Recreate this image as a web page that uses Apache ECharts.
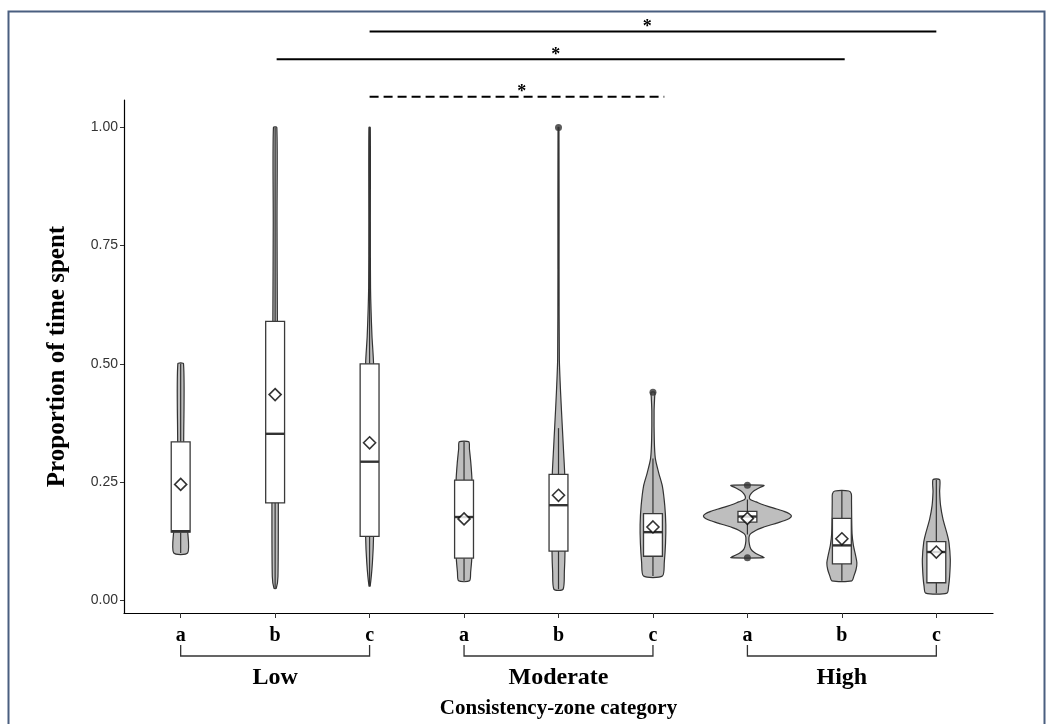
<!DOCTYPE html>
<html><head><meta charset="utf-8">
<script src="https://cdn.jsdelivr.net/npm/echarts@6/dist/echarts.min.js"></script>
<style>html,body{margin:0;padding:0;background:#fff}#c{width:1048px;height:724px}</style>
</head><body><div id="c"></div>
<script>
// ---- data ----
const categories = ['a','b','c','a','b','c','a','b','c'];
const groupNames = ['Low','Moderate','High'];
const groupSpans = [[1,3],[4,6],[7,9]];
const yTicks = [0, 0.25, 0.5, 0.75, 1];
const xTicks = [1,2,3,4,5,6,7,8,9];
// violin outlines: [value, half-width in category units]
const violinLowA = [[0.100,0.074],[0.145,0.074],[0.16,0.05],[0.30,0.034],[0.335,0.032],[0.50,0.030]];
const violinLowB = [[0.025,0.012],[0.05,0.030],[0.206,0.034],[0.35,0.032],[0.59,0.024],[0.80,0.020],[1.0,0.018]];
const violinLowC = [[0.030,0.006],[0.08,0.030],[0.135,0.042],[0.30,0.050],[0.50,0.042],[0.56,0.025],[0.66,0.010],[0.80,0.008],[1.0,0.007]];
const violinModA = [[0.041,0.058],[0.06,0.070],[0.089,0.082],[0.17,0.090],[0.254,0.084],[0.29,0.072],[0.32,0.057],[0.335,0.050]];
const violinModB = [[0.023,0.048],[0.06,0.062],[0.104,0.069],[0.20,0.072],[0.266,0.066],[0.31,0.055],[0.364,0.041],[0.44,0.022],[0.51,0.009],[0.70,0.006],[1.0,0.005]];
const violinModC = [[0.051,0.100],[0.08,0.120],[0.12,0.133],[0.16,0.136],[0.20,0.125],[0.241,0.100],[0.27,0.060],[0.30,0.025],[0.34,0.014],[0.40,0.012],[0.43,0.018],[0.44,0.020]];
const violinHighA = [[0.090,0.175],[0.095,0.127],[0.101,0.074],[0.108,0.037],[0.118,0.021],[0.132,0.016],[0.140,0.030],[0.148,0.092],[0.153,0.151],[0.158,0.226],[0.163,0.310],[0.168,0.388],[0.173,0.444],[0.178,0.466],[0.183,0.444],[0.188,0.388],[0.193,0.310],[0.198,0.226],[0.203,0.151],[0.208,0.092],[0.213,0.030],[0.218,0.021],[0.225,0.037],[0.232,0.074],[0.238,0.127],[0.243,0.175]];
const violinHighB = [[0.041,0.106],[0.051,0.127],[0.065,0.150],[0.079,0.159],[0.095,0.145],[0.116,0.122],[0.14,0.108],[0.173,0.104],[0.21,0.102],[0.225,0.100],[0.231,0.074]];
const violinHighC = [[0.015,0.113],[0.03,0.130],[0.051,0.141],[0.086,0.148],[0.122,0.134],[0.141,0.113],[0.171,0.071],[0.20,0.045],[0.23,0.035],[0.255,0.035]];
const violins = [violinLowA, violinLowB, violinLowC, violinModA, violinModB, violinModC, violinHighA, violinHighB, violinHighC];
// box stats: [lower whisker, q1, median, q3, upper whisker]
const boxStats = [
  [0.100, 0.144, 0.146, 0.335, 0.500],
  [0.025, 0.206, 0.352, 0.590, 1.000],
  [0.030, 0.135, 0.293, 0.500, 1.000],
  [0.041, 0.089, 0.176, 0.254, 0.335],
  [0.023, 0.104, 0.201, 0.266, 0.364],
  [0.051, 0.093, 0.144, 0.183, 0.300],
  [0.139, 0.165, 0.177, 0.188, 0.213],
  [0.041, 0.077, 0.116, 0.173, 0.231],
  [0.015, 0.037, 0.102, 0.124, 0.255]
];
const means = [0.245, 0.435, 0.333, 0.172, 0.222, 0.155, 0.173, 0.130, 0.102];
const outliers = [[5, 1.0], [6, 0.44], [7, 0.243], [7, 0.090]];
// significance bars: [from x, to x, height, star x]
const sigBars = [[3, 9, 1.203, 5.94], [2.016, 8.03, 1.144, 4.97], [3, 6.12, 1.065, 4.61]];
const sigDashed = [false, false, true];
const sigLabel = '*';

const Y_MIN = -0.027, Y_MAX = 1.058;
const SERIF = '"Liberation Serif", "Times New Roman", serif';
const SANS = '"Liberation Sans", Arial, sans-serif';
const BOX_W = 0.2;

const chart = echarts.init(document.getElementById('c'));

function renderViolin(params, api) {
  const i = params.dataIndex;
  const x = i + 1;
  const prof = violins[i];
  const pts = [];
  for (const [v, hw] of prof) pts.push(api.coord([x + hw, v]));
  for (let k = prof.length - 1; k >= 0; k--) pts.push(api.coord([x - prof[k][1], prof[k][0]]));
  const [lw, q1, med, q3, uw] = boxStats[i];
  const cLw = api.coord([x, lw]), cQ1 = api.coord([x, q1]), cQ3 = api.coord([x, q3]), cUw = api.coord([x, uw]);
  const bl = api.coord([x - BOX_W / 2, q3]), br = api.coord([x + BOX_W / 2, q1]);
  const mL = api.coord([x - BOX_W / 2, med]), mR = api.coord([x + BOX_W / 2, med]);
  return {
    type: 'group',
    children: [
      { type: 'polygon', shape: { points: pts, smooth: 0.25 }, style: { fill: '#bebebe', stroke: '#333', lineWidth: 1.2 } },
      { type: 'line', shape: { x1: cUw[0], y1: cUw[1], x2: cQ3[0], y2: cQ3[1] }, style: { stroke: '#333', lineWidth: 1.2 } },
      { type: 'line', shape: { x1: cQ1[0], y1: cQ1[1], x2: cLw[0], y2: cLw[1] }, style: { stroke: '#333', lineWidth: 1.2 } },
      { type: 'rect', shape: { x: bl[0], y: bl[1], width: br[0] - bl[0], height: br[1] - bl[1] }, style: { fill: '#fff', stroke: '#3a3a3a', lineWidth: 1.3 } },
      { type: 'line', shape: { x1: mL[0], y1: mL[1], x2: mR[0], y2: mR[1] }, style: { stroke: '#333', lineWidth: 2.4 } }
    ]
  };
}

function renderSig(params, api) {
  const i = params.dataIndex;
  const [x1, x2, h, sx] = sigBars[i];
  const p1 = api.coord([x1, h]), p2 = api.coord([x2, h]), ps = api.coord([sx, h]);
  return {
    type: 'group',
    children: [
      { type: 'line', shape: { x1: p1[0], y1: p1[1], x2: p2[0], y2: p2[1] }, style: { stroke: '#000', lineWidth: 2, lineDash: sigDashed[i] ? [9, 5] : null } },
      { type: 'text', x: ps[0], y: p1[1] - 4, style: { text: sigLabel, font: 'bold 18px ' + SERIF, fill: '#000', align: 'center', verticalAlign: 'middle' } }
    ]
  };
}

function renderGroup(params, api) {
  const i = params.dataIndex;
  const [s, e] = groupSpans[i];
  const p1 = api.coord([s, Y_MIN]), p2 = api.coord([e, Y_MIN]);
  const yb = p1[1] + 43, yt = p1[1] + 32;
  return {
    type: 'group',
    children: [
      { type: 'polyline', shape: { points: [[p1[0], yt], [p1[0], yb], [p2[0], yb], [p2[0], yt]] }, style: { stroke: '#333', lineWidth: 1.3, fill: null } },
      { type: 'text', x: (p1[0] + p2[0]) / 2, y: p1[1] + 65, style: { text: groupNames[i], font: 'bold 24px ' + SERIF, fill: '#000', align: 'center', verticalAlign: 'middle' } }
    ]
  };
}

chart.setOption({
  animation: false,
  backgroundColor: '#fff',
  grid: { left: 124, right: 55, top: 100, bottom: 111, outerBoundsMode: 'none', containLabel: false },
  xAxis: {
    type: 'value', min: 0.4, max: 9.6,
    name: 'Consistency-zone category', nameLocation: 'middle', nameGap: 85,
    nameTextStyle: { fontFamily: SERIF, fontWeight: 'bold', fontSize: 21, color: '#000' },
    axisLine: { show: true, onZero: false, lineStyle: { color: '#000', width: 1.2 } },
    axisTick: { show: true, customValues: xTicks, length: 5, lineStyle: { color: '#333' } },
    axisLabel: { customValues: xTicks, margin: 13, formatter: v => categories[Math.round(v) - 1], fontFamily: SERIF, fontWeight: 'bold', fontSize: 20, color: '#000' },
    splitLine: { show: false }
  },
  yAxis: {
    type: 'value', min: Y_MIN, max: Y_MAX,
    name: 'Proportion of time spent', nameLocation: 'middle', nameGap: 54, nameRotate: 90,
    nameTextStyle: { fontFamily: SERIF, fontWeight: 'bold', fontSize: 25, color: '#000' },
    axisLine: { show: true, onZero: false, lineStyle: { color: '#000', width: 1.2 } },
    axisTick: { show: true, customValues: yTicks, length: 4, lineStyle: { color: '#333' } },
    axisLabel: { customValues: yTicks, margin: 6, formatter: v => v.toFixed(2), fontFamily: SANS, fontSize: 14, color: '#333' },
    splitLine: { show: false }
  },
  graphic: [{ type: 'rect', left: 6, top: 9, shape: { width: 1036, height: 730 }, style: { fill: null, stroke: '#4a5f80', lineWidth: 2 }, silent: true }],
  series: [
    { type: 'custom', renderItem: renderViolin, data: categories.map((c, i) => [i + 1, boxStats[i][2]]), encode: { x: 0, y: 1 }, z: 2 },
    { type: 'scatter', data: outliers, symbol: 'circle', symbolSize: 7, itemStyle: { color: '#333' }, z: 3 },
    { type: 'scatter', data: means.map((m, i) => [i + 1, m]), symbol: 'diamond', symbolSize: 12, itemStyle: { color: '#fff', borderColor: '#000', borderWidth: 1.6 }, z: 4 },
    { type: 'custom', renderItem: renderSig, data: sigBars.map(b => [b[0], b[2]]), encode: { x: 0, y: 1 }, clip: false, z: 5 },
    { type: 'custom', renderItem: renderGroup, data: groupSpans.map(g => [g[0], Y_MIN]), encode: { x: 0, y: 1 }, clip: false, z: 5 }
  ]
});
</script>
</body></html>
